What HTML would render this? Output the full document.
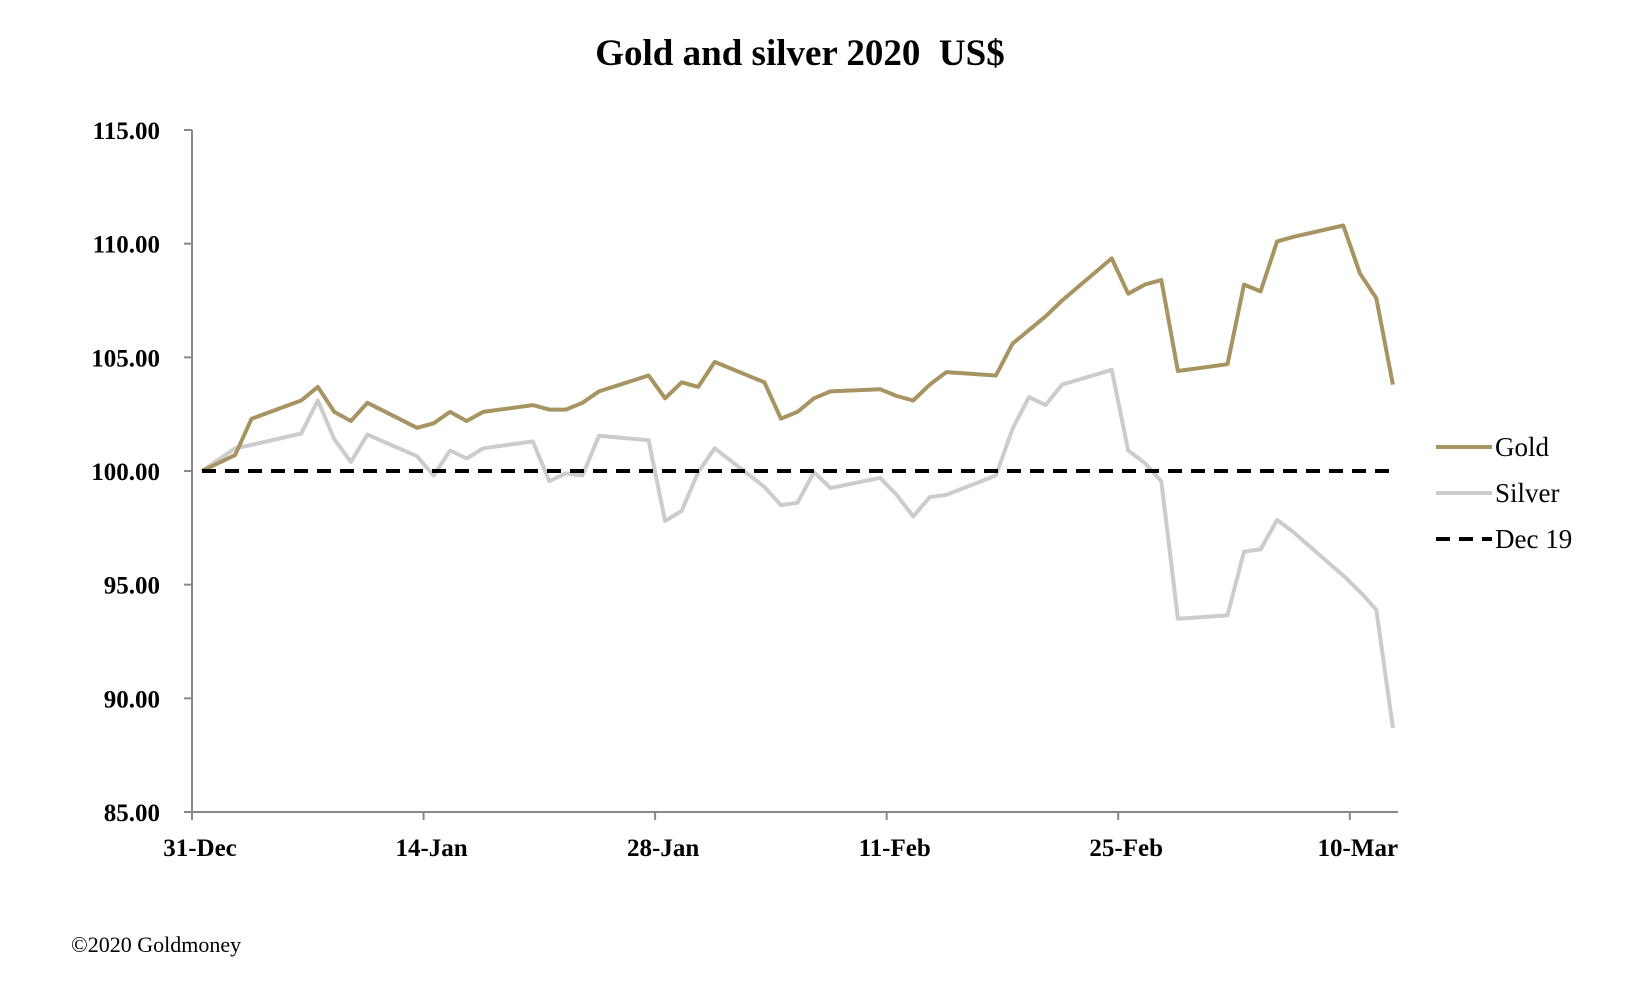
<!DOCTYPE html>
<html><head><meta charset="utf-8"><style>
html,body{margin:0;padding:0;background:#fff;}
svg{display:block;font-family:"Liberation Serif",serif;}
</style></head><body>
<svg id="chart" width="1648" height="984" viewBox="0 0 1648 984">
<text x="800" y="65" text-anchor="middle" font-size="37" font-weight="bold">Gold and silver 2020&#160; US$</text>
<g id="axes"></g>
<g id="series"></g>
<g>
<line x1="1436" y1="447" x2="1492" y2="447" stroke="#a89462" stroke-width="4"/>
<text x="1495" y="456" font-size="27">Gold</text>
<line x1="1436" y1="493" x2="1492" y2="493" stroke="#cccccc" stroke-width="4"/>
<text x="1495" y="502" font-size="27">Silver</text>
<line x1="1436" y1="539" x2="1492" y2="539" stroke="#000" stroke-width="4" stroke-dasharray="14,9"/>
<text x="1495" y="548" font-size="27">Dec 19</text>
</g>
<text x="71" y="952" font-size="22">©2020 Goldmoney</text>
</svg>
<script>
const goldDays=[0,2,3,6,7,8,9,10,13,14,15,16,17,20,21,22,23,24,27,28,29,30,31,34,35,36,37,38,41,42,43,44,45,48,49,50,51,52,55,56,57,58,59,62,63,64,65,66,69,70,71,72];
const goldValues=[100,100.7,102.3,103.1,103.7,102.6,102.2,103.0,101.9,102.1,102.6,102.2,102.6,102.9,102.7,102.7,103.0,103.5,104.2,103.2,103.9,103.7,104.8,103.9,102.3,102.6,103.2,103.5,103.6,103.3,103.1,103.8,104.35,104.2,105.6,106.2,106.8,107.5,109.35,107.8,108.2,108.4,104.4,104.7,108.2,107.9,110.1,110.3,110.8,108.7,107.6,103.8];
const silverDays=[0,2,3,6,7,8,9,10,13,14,15,16,17,20,21,22,23,24,27,28,29,30,31,34,35,36,37,38,41,42,43,44,45,48,49,50,51,52,55,56,57,58,59,62,63,64,65,66,69,70,71,72];
const silverValues=[100,101.0,101.15,101.65,103.1,101.4,100.4,101.6,100.65,99.8,100.9,100.55,101.0,101.3,99.55,99.9,99.8,101.55,101.35,97.8,98.25,99.95,101.0,99.3,98.5,98.6,99.95,99.25,99.7,98.95,98.0,98.85,98.95,99.8,101.85,103.25,102.9,103.8,104.45,100.9,100.35,99.55,93.5,93.65,96.45,96.55,97.85,97.3,95.4,94.7,93.9,88.7];
const baselineValue=100;
const yTicks=[85,90,95,100,105,110,115];
const yTickLabels=["85.00","90.00","95.00","100.00","105.00","110.00","115.00"];
const xTickDays=[0,14,28,42,56,70];
const xTickLabels=["31-Dec","14-Jan","28-Jan","11-Feb","25-Feb","10-Mar"];

const X0=192,PX_PER_DAY=16.54,XEND=1398,DATA_OFFSET=10;
const Y_TOP=130,Y_BOT=812,VMIN=85,VMAX=115;
function xs(d){return X0+d*PX_PER_DAY;}
function xd(d){return xs(d)+DATA_OFFSET;}
function ys(v){return Y_BOT-(v-VMIN)/(VMAX-VMIN)*(Y_BOT-Y_TOP);}
const NS="http://www.w3.org/2000/svg";
function mk(tag,attrs,parent){const e=document.createElementNS(NS,tag);for(const k in attrs)e.setAttribute(k,attrs[k]);parent.appendChild(e);return e;}
const axes=document.getElementById('axes');
const series=document.getElementById('series');

let e=mk('line',{x1:X0,y1:Y_TOP,x2:X0,y2:Y_BOT,stroke:'#888','stroke-width':2},axes);


e=mk('line',{x1:X0,y1:Y_BOT,x2:XEND,y2:Y_BOT,stroke:'#888','stroke-width':2},axes);


yTicks.forEach((v,i)=>{
  const y=ys(v);
  let t=mk('line',{x1:X0-8,y1:y,x2:X0,y2:y,stroke:'#888','stroke-width':2},axes);
  
  
  let l=mk('text',{x:160,y:y+9,'text-anchor':'end','font-size':25,'font-weight':'bold'},axes);
  l.textContent=yTickLabels[i];
  
  
});
xTickDays.forEach((d,i)=>{
  const x=xs(d);
  let t=mk('line',{x1:x,y1:Y_BOT,x2:x,y2:Y_BOT+8,stroke:'#888','stroke-width':2},axes);
  
  
  let l=mk('text',{x:x+8,y:856,'text-anchor':'middle','font-size':25,'font-weight':'bold'},axes);
  l.textContent=xTickLabels[i];
  
  
});
function pts(days,vals){return days.map((d,i)=>xd(d).toFixed(1)+','+ys(vals[i]).toFixed(1)).join(' ');}
let s=mk('polyline',{points:pts(silverDays,silverValues),fill:'none',stroke:'#cccccc','stroke-width':4,'stroke-linejoin':'round'},series);


let g=mk('polyline',{points:pts(goldDays,goldValues),fill:'none',stroke:'#a89462','stroke-width':4,'stroke-linejoin':'round'},series);


let b=mk('line',{x1:xd(0),y1:ys(baselineValue),x2:xd(72),y2:ys(baselineValue),stroke:'#000','stroke-width':4,'stroke-dasharray':'14,9'},series);


</script>
</body></html>
